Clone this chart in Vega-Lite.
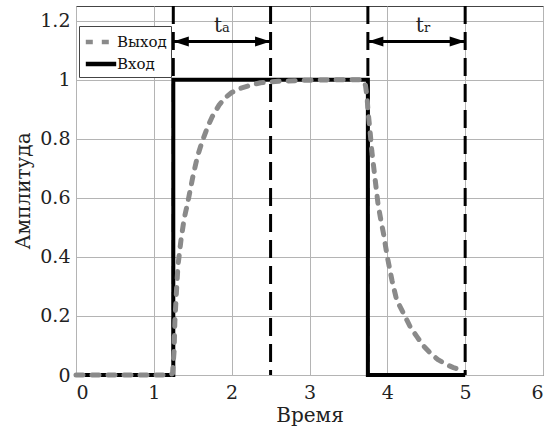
{
  "$schema": "https://vega.github.io/schema/vega-lite/v6.json",
  "autosize": {"type": "none"},
  "padding": {"left": 76, "top": 6, "right": 10, "bottom": 55},
  "width": 467,
  "height": 369,
  "background": "white",
  "config": {
    "view": {"stroke": "#444", "strokeWidth": 1},
    "font": "DejaVu Serif",
    "axis": {
      "labelFont": "DejaVu Serif",
      "titleFont": "DejaVu Serif",
      "labelFontSize": 19,
      "titleFontSize": 20,
      "titleFontWeight": "normal",
      "labelColor": "#222",
      "titleColor": "#222",
      "domain": false,
      "ticks": false,
      "gridColor": "#b4b4b4",
      "gridWidth": 1,
      "gridOpacity": 1
    },
    "legend": {
      "labelFont": "DejaVu Serif",
      "labelFontSize": 15,
      "labelColor": "#111"
    }
  },
  "datasets": {
    "signals": [
      {"t": 0, "v": 0, "s": "Вход"},
      {"t": 1.25, "v": 0, "s": "Вход"},
      {"t": 1.25, "v": 1, "s": "Вход"},
      {"t": 3.75, "v": 1, "s": "Вход"},
      {"t": 3.75, "v": 0, "s": "Вход"},
      {"t": 5, "v": 0, "s": "Вход"},
      {"t": 0, "v": 0, "s": "Выход"},
      {"t": 0.5, "v": 0, "s": "Выход"},
      {"t": 1.0, "v": 0, "s": "Выход"},
      {"t": 1.2, "v": 0, "s": "Выход"},
      {"t": 1.24, "v": 0.005, "s": "Выход"},
      {"t": 1.26, "v": 0.08, "s": "Выход"},
      {"t": 1.27, "v": 0.18, "s": "Выход"},
      {"t": 1.29, "v": 0.28, "s": "Выход"},
      {"t": 1.31, "v": 0.37, "s": "Выход"},
      {"t": 1.35, "v": 0.46, "s": "Выход"},
      {"t": 1.39, "v": 0.53, "s": "Выход"},
      {"t": 1.44, "v": 0.59, "s": "Выход"},
      {"t": 1.5, "v": 0.67, "s": "Выход"},
      {"t": 1.56, "v": 0.74, "s": "Выход"},
      {"t": 1.62, "v": 0.79, "s": "Выход"},
      {"t": 1.69, "v": 0.84, "s": "Выход"},
      {"t": 1.75, "v": 0.875, "s": "Выход"},
      {"t": 1.84, "v": 0.915, "s": "Выход"},
      {"t": 1.92, "v": 0.94, "s": "Выход"},
      {"t": 2.0, "v": 0.957, "s": "Выход"},
      {"t": 2.1, "v": 0.97, "s": "Выход"},
      {"t": 2.25, "v": 0.982, "s": "Выход"},
      {"t": 2.37, "v": 0.99, "s": "Выход"},
      {"t": 2.6, "v": 0.995, "s": "Выход"},
      {"t": 2.9, "v": 0.998, "s": "Выход"},
      {"t": 3.3, "v": 1.0, "s": "Выход"},
      {"t": 3.65, "v": 1.0, "s": "Выход"},
      {"t": 3.7, "v": 0.995, "s": "Выход"},
      {"t": 3.72, "v": 0.98, "s": "Выход"},
      {"t": 3.74, "v": 0.94, "s": "Выход"},
      {"t": 3.75, "v": 0.9, "s": "Выход"},
      {"t": 3.78, "v": 0.82, "s": "Выход"},
      {"t": 3.8, "v": 0.76, "s": "Выход"},
      {"t": 3.84, "v": 0.67, "s": "Выход"},
      {"t": 3.88, "v": 0.58, "s": "Выход"},
      {"t": 3.92, "v": 0.52, "s": "Выход"},
      {"t": 3.95, "v": 0.48, "s": "Выход"},
      {"t": 4.0, "v": 0.4, "s": "Выход"},
      {"t": 4.06, "v": 0.32, "s": "Выход"},
      {"t": 4.12, "v": 0.254, "s": "Выход"},
      {"t": 4.23, "v": 0.197, "s": "Выход"},
      {"t": 4.3, "v": 0.16, "s": "Выход"},
      {"t": 4.38, "v": 0.13, "s": "Выход"},
      {"t": 4.46, "v": 0.1, "s": "Выход"},
      {"t": 4.55, "v": 0.075, "s": "Выход"},
      {"t": 4.65, "v": 0.052, "s": "Выход"},
      {"t": 4.77, "v": 0.034, "s": "Выход"},
      {"t": 4.85, "v": 0.025, "s": "Выход"},
      {"t": 4.94, "v": 0.017, "s": "Выход"}
    ],
    "markers": [{"t": 1.25}, {"t": 2.5}, {"t": 3.75}, {"t": 5}],
    "spans": [
      {"t1": 1.25, "t2": 2.5, "y": 1.13, "main": "t", "sub": "a", "mid": 1.875},
      {"t1": 3.75, "t2": 5, "y": 1.13, "main": "t", "sub": "r", "mid": 4.47}
    ]
  },
  "encoding": {
    "x": {
      "type": "quantitative",
      "scale": {"domain": [0, 6], "nice": false},
      "axis": {"values": [0, 1, 2, 3, 4, 5, 6], "title": "Время", "labelPadding": 8, "titlePadding": 3, "grid": true}
    },
    "y": {
      "type": "quantitative",
      "scale": {"domain": [0, 1.25], "nice": false},
      "axis": {"values": [0, 0.2, 0.4, 0.6, 0.8, 1, 1.2], "format": "~g", "title": "Амплитуда", "labelPadding": 6, "titlePadding": 6, "grid": true}
    }
  },
  "layer": [
    {
      "data": {"name": "markers"},
      "mark": {"type": "rule", "color": "black", "strokeWidth": 3, "strokeDash": [18, 8]},
      "encoding": {"x": {"field": "t", "type": "quantitative"}}
    },
    {
      "data": {"name": "signals"},
      "transform": [{"filter": "datum.s === 'Вход'"}],
      "mark": {"type": "line", "strokeWidth": 4, "strokeJoin": "miter", "strokeCap": "butt"},
      "encoding": {
        "x": {"field": "t", "type": "quantitative"},
        "y": {"field": "v", "type": "quantitative"},
        "order": {"value": null},
        "color": {"field": "s", "type": "nominal", "scale": {"domain": ["Выход", "Вход"], "range": ["#8a8a8a", "#000000"]}, "legend": {"title": null, "orient": "none", "legendX": 3, "legendY": 20, "fillColor": "white", "strokeColor": "#444", "padding": 4, "symbolType": "M-1.6,0L1.6,0", "symbolSize": 361, "symbolStrokeWidth": 4.5, "symbolFillColor": "transparent", "rowPadding": 1, "labelOffset": 4, "symbolOffset": 6}},
        "strokeDash": {"field": "s", "type": "nominal", "scale": {"domain": ["Выход", "Вход"], "range": [[7, 9], [1, 0]]}, "legend": null}
      }
    },
    {
      "data": {"name": "signals"},
      "transform": [{"filter": "datum.s === 'Выход'"}],
      "mark": {"type": "line", "strokeWidth": 5, "strokeCap": "round", "strokeJoin": "round"},
      "encoding": {
        "x": {"field": "t", "type": "quantitative"},
        "y": {"field": "v", "type": "quantitative"},
        "order": {"value": null},
        "color": {"field": "s", "type": "nominal"},
        "strokeDash": {"field": "s", "type": "nominal"}
      }
    },
    {
      "data": {"name": "spans"},
      "mark": {"type": "rule", "color": "black", "strokeWidth": 3},
      "encoding": {
        "x": {"field": "t1", "type": "quantitative"},
        "x2": {"field": "t2"},
        "y": {"field": "y", "type": "quantitative"}
      }
    },
    {
      "data": {"name": "spans"},
      "mark": {"type": "point", "shape": "M0,0L2,-0.65L2,0.65Z", "filled": true, "color": "black", "opacity": 1, "size": 240},
      "encoding": {
        "x": {"field": "t1", "type": "quantitative"},
        "y": {"field": "y", "type": "quantitative"}
      }
    },
    {
      "data": {"name": "spans"},
      "mark": {"type": "point", "shape": "M0,0L-2,-0.65L-2,0.65Z", "filled": true, "color": "black", "opacity": 1, "size": 240},
      "encoding": {
        "x": {"field": "t2", "type": "quantitative"},
        "y": {"field": "y", "type": "quantitative"}
      }
    },
    {
      "data": {"name": "spans"},
      "mark": {"type": "text", "font": "DejaVu Serif", "fontSize": 20, "align": "right", "baseline": "alphabetic", "color": "#222", "dx": 0, "dy": -9},
      "encoding": {
        "x": {"field": "mid", "type": "quantitative"},
        "y": {"field": "y", "type": "quantitative"},
        "text": {"field": "main"}
      }
    },
    {
      "data": {"name": "spans"},
      "mark": {"type": "text", "font": "DejaVu Serif", "fontSize": 13, "align": "left", "baseline": "alphabetic", "color": "#222", "dx": 0, "dy": -9},
      "encoding": {
        "x": {"field": "mid", "type": "quantitative"},
        "y": {"field": "y", "type": "quantitative"},
        "text": {"field": "sub"}
      }
    }
  ]
}
